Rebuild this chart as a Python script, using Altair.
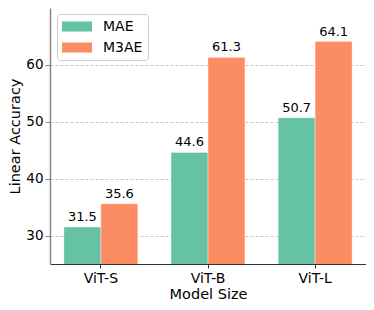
import altair as alt
import pandas as pd

models = ["ViT-S", "ViT-B", "ViT-L"]
series_names = ["MAE", "M3AE"]
mae_vals = [31.5, 44.6, 50.7]
m3ae_vals = [35.6, 61.3, 64.1]
colors = ["#66c2a5", "#fc8d62"]
y_ticks = [30, 40, 50, 60]

rows = []
for m, a, b in zip(models, mae_vals, m3ae_vals):
    rows.append({"model": m, "series": "MAE", "value": a, "label": f"{a:.1f}"})
    rows.append({"model": m, "series": "M3AE", "value": b, "label": f"{b:.1f}"})
df = pd.DataFrame(rows)

FONT = "DejaVu Sans"

x_enc = alt.X(
    "model:N",
    sort=models,
    scale=alt.Scale(paddingInner=0.31, paddingOuter=0.13),
    axis=alt.Axis(
        title="Model Size", labelAngle=0, labelFontSize=14, titleFontSize=14.5,
        labelFont=FONT, titleFont=FONT, labelColor="#000", titleColor="#000",
        titleFontWeight="normal", domainColor="#333", domainWidth=1.2,
        tickColor="#333", tickSize=4, labelPadding=3, titlePadding=2, grid=False,
    ),
)
xoff = alt.XOffset("series:N", sort=series_names)
y_enc = alt.Y(
    "value:Q",
    scale=alt.Scale(domain=[25, 70], nice=False, zero=False),
    axis=alt.Axis(
        title="Linear Accuracy", values=y_ticks, labelFontSize=13.5, titleFontSize=14.5,
        labelFont=FONT, titleFont=FONT, labelColor="#000", titleColor="#000",
        titleFontWeight="normal", domainColor="#888", domainWidth=1.5,
        tickColor="#888", tickSize=5, labelPadding=2, titlePadding=3,
        grid=True, gridColor="#b8b8b8", gridDash=[3, 2], gridWidth=0.8,
    ),
)

bars = alt.Chart(df).mark_bar(clip=True, stroke="white", strokeWidth=0.5, strokeOpacity=0.7).encode(
    x=x_enc,
    xOffset=xoff,
    y=y_enc,
    color=alt.Color(
        "series:N",
        sort=series_names,
        scale=alt.Scale(domain=series_names, range=colors),
        legend=alt.Legend(
            title=None, orient="none", legendX=7, legendY=6,
            symbolType="M-2,-0.67H2V0.67H-2Z", symbolSize=225,
            symbolOffset=7.5,
            symbolStrokeWidth=0, symbolOpacity=1,
            labelFont=FONT, labelFontSize=14, labelColor="#000", labelOffset=18.5,
            rowPadding=6, padding=5, strokeColor="#cccccc", cornerRadius=3,
            fillColor="white",
        ),
    ),
)

texts = alt.Chart(df).mark_text(
    baseline="alphabetic", dy=-6, fontSize=13, font=FONT, color="#000"
).encode(
    x=alt.X("model:N", sort=models),
    xOffset=xoff,
    y=alt.Y("value:Q"),
    text="label:N",
)

chart = alt.layer(bars, texts).properties(
    width=316, height=256,
    autosize=alt.AutoSizeParams(type="none"),
    padding={"left": 42, "top": 0, "right": 0, "bottom": 38},
).configure_view(stroke=None)

chart.save("out.html", embed_options={"renderer": "svg", "actions": False})
